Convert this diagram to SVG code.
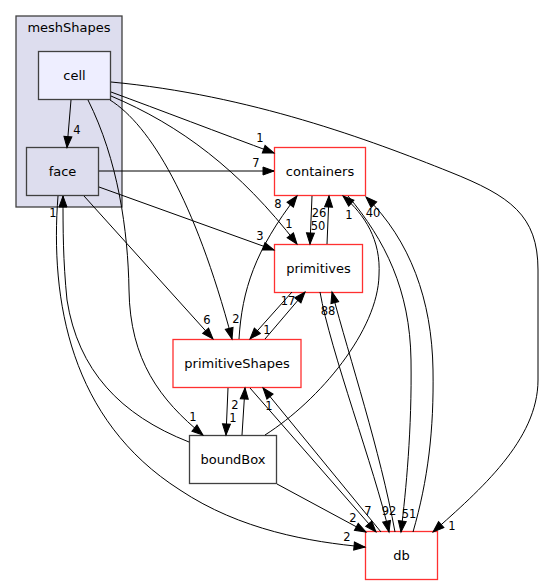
<svg xmlns="http://www.w3.org/2000/svg" width="544" height="585" viewBox="0 0 544 585">
<defs>
<marker id="ah" markerUnits="userSpaceOnUse" markerWidth="12" markerHeight="9" refX="11" refY="4" orient="auto" overflow="visible">
<path d="M0,0 L11,4 L0,8 z" fill="#000" stroke="#000" stroke-width="1"/>
</marker>
</defs>
<style>
.nl{font-family:"DejaVu Sans","Liberation Sans",sans-serif;font-size:13px;text-anchor:middle;fill:#000}
.el{font-family:"DejaVu Sans","Liberation Sans",sans-serif;font-size:11.5px;text-anchor:middle;fill:#000}
.e{fill:none;stroke:#000;stroke-width:1;marker-end:url(#ah)}
.red{fill:#fff;stroke:#ff3030;stroke-width:1.3}
.gray{fill:#fff;stroke:#404040;stroke-width:1.3}
</style>
<rect width="544" height="585" fill="#fff"/>
<g id="cluster_meshShapes">
<rect x="16" y="16" width="106" height="191" fill="#ddddee" stroke="#404040" stroke-width="1.3"/>
<text class="nl" x="69" y="32">meshShapes</text>
</g>
<g id="node_cell">
<rect x="38.5" y="51.5" width="72" height="48" fill="#eeeeff" stroke="#404040" stroke-width="1.3"/>
<text class="nl" x="74.5" y="80">cell</text>
</g>
<g id="node_face">
<rect x="26.5" y="147.5" width="72" height="48" fill="#ddddee" stroke="#404040" stroke-width="1.3"/>
<text class="nl" x="62.5" y="176">face</text>
</g>
<g id="node_containers">
<rect class="red" x="274.5" y="147.5" width="91" height="48"/>
<text class="nl" x="320" y="176">containers</text>
</g>
<g id="node_primitives">
<rect class="red" x="274.5" y="244.5" width="88" height="48"/>
<text class="nl" x="318.5" y="273">primitives</text>
</g>
<g id="node_primitiveShapes">
<rect class="red" x="173" y="339.5" width="128" height="48"/>
<text class="nl" x="237" y="368">primitiveShapes</text>
</g>
<g id="node_boundBox">
<rect class="gray" x="189.5" y="435.5" width="87" height="48"/>
<text class="nl" x="233" y="464">boundBox</text>
</g>
<g id="node_db">
<rect class="red" x="365.5" y="531.5" width="72" height="48"/>
<text class="nl" x="401.5" y="560">db</text>
</g>
<g id="connectors">
<path class="e" d="M71,100 L67,147.5"/>
<text class="el" x="77" y="134">4</text>
<path class="e" d="M99,171 L274,171" stroke-width="1.3"/>
<text class="el" x="256" y="167">7</text>
<path class="e" d="M111,92 C160,110 220,133 274,153"/>
<text class="el" x="260" y="142">1</text>
<path class="e" d="M111,96 C180,125 240,170 297,244"/>
<text class="el" x="289" y="228">1</text>
<path class="e" d="M99,187 L274,250"/>
<text class="el" x="260" y="240">3</text>
<path class="e" d="M84,196 L213,339"/>
<text class="el" x="207" y="324">6</text>
<path class="e" d="M110,100 C150,125 195,200 232,339"/>
<text class="el" x="236" y="323">2</text>
<path class="e" d="M88,100 C118,160 128,230 129,290 C130,360 160,400 203,435"/>
<text class="el" x="193" y="421">1</text>
<path class="e" d="M111,82 C250,95 370,140 450,172 C510,196 538,215 538,270 L538,380 C538,440 480,490 433,532"/>
<text class="el" x="452" y="530">1</text>
<path class="e" d="M239,339 C242,290 255,250 297,196"/>
<text class="el" x="278" y="208">8</text>
<path class="e" d="M312,196 L310,244"/>
<text class="el" x="318" y="230">50</text>
<path class="e" d="M327,244 L329,196"/>
<text class="el" x="319" y="217">26</text>
<path class="e" d="M265,435 C320,400 378,330 379,275 C381,240 365,215 343,196"/>
<text class="el" x="349" y="219">1</text>
<path class="e" d="M348,196 C385,240 410,290 411,360 C412,430 406,490 401,532"/>
<text class="el" x="409" y="518">51</text>
<path class="e" d="M413,532 C428,480 434,430 433,370 C432,300 410,240 366,197"/>
<text class="el" x="373" y="217">40</text>
<path class="e" d="M292,292 L250,339"/>
<text class="el" x="267" y="334">1</text>
<path class="e" d="M265,339 L305,292"/>
<text class="el" x="288" y="305">17</text>
<path class="e" d="M228,388 L226,435"/>
<text class="el" x="233" y="422">1</text>
<path class="e" d="M242,435 L245,388"/>
<text class="el" x="235" y="409">2</text>
<path class="e" d="M250,388 L376,532"/>
<text class="el" x="368" y="515">7</text>
<path class="e" d="M381,532 L263,388"/>
<text class="el" x="269" y="410">1</text>
<path class="e" d="M320,292 C330,350 375,470 389,532"/>
<text class="el" x="389" y="515">92</text>
<path class="e" d="M395,532 C380,450 350,360 332,292"/>
<text class="el" x="328" y="315">88</text>
<path class="e" d="M277,484 L366,532"/>
<text class="el" x="353" y="522">2</text>
<path class="e" d="M189,442 C120,415 78,370 67,300 C63,260 63,230 63,196"/>
<text class="el" x="53" y="217">1</text>
<path class="e" d="M58,196 C50,300 70,420 180,490 C240,530 310,542 365,547"/>
<text class="el" x="347" y="541">2</text>
</g>
</svg>
